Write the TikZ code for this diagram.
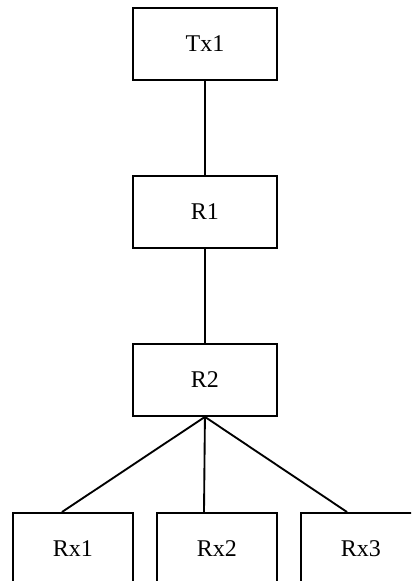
\documentclass[tikz,border=0pt]{standalone}
\usepackage{fontspec}
\setmainfont{Liberation Serif}
\usetikzlibrary{calc}
\tikzset{
  box/.style={draw, line width=1.4pt, rectangle, inner sep=0pt, anchor=north west, font=\fontsize{18}{20}\selectfont},
  bigbox/.style={box, minimum width=144*0.75pt, minimum height=72*0.75pt},
  smallbox/.style={box, minimum width=120*0.75pt, minimum height=72*0.75pt},
  link/.style={line width=1.4pt}
}
\begin{document}
\begin{tikzpicture}[x=0.75pt,y=-0.75pt]
\useasboundingbox (0,0) rectangle (411,581);
\clip (0,0) rectangle (411,581);
\node[bigbox] (tx1) at (132,7) {Tx1};
\node[bigbox] (r1) at (132,175) {R1};
\node[bigbox] (r2) at (132,343) {R2};
\node[smallbox] (rx1) at (12,512) {Rx1};
\node[smallbox] (rx2) at (156,512) {Rx2};
\node[smallbox] (rx3) at (300,512) {Rx3};
\coordinate (e1) at ($(rx1.north west)+(50,0)$);
\coordinate (e2) at ($(rx2.north west)+(48,0)$);
\coordinate (e3) at ($(rx3.north west)+(47,0)$);
\draw[link] (tx1.south) -- (r1.north);
\draw[link] (r1.south) -- (r2.north);
\draw[link] (r2.south) -- (e1);
\draw[link] (r2.south) -- (e2);
\draw[link] (r2.south) -- (e3);
\end{tikzpicture}
\end{document}
